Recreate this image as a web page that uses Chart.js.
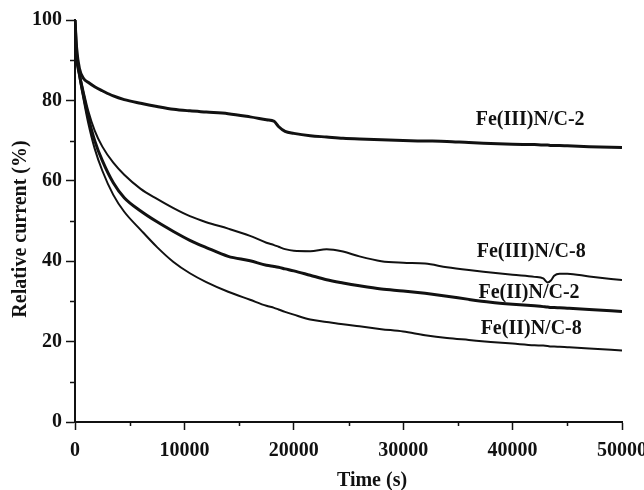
<!DOCTYPE html>
<html>
<head>
<meta charset="utf-8">
<script src="https://cdn.jsdelivr.net/npm/chart.js@4"></script>
<style>
  html, body { margin: 0; padding: 0; background: #fff; }
  #chart { display: block; }
</style>
</head>
<body>
<canvas id="chart" width="644" height="490"></canvas>
<script>
// time points (s), shared by all four curves
const times = [0, 150, 400, 800, 1200, 1800, 2500, 3500, 4500, 6000, 7500, 9000, 10500, 12000, 14000,
  16000, 17500, 18200, 18600, 19200, 20000, 21500, 23000, 24500, 26000, 28000, 30000, 32000, 34000,
  36000, 38000, 40000, 42000, 42800, 43200, 43500, 43800, 44300, 45000, 47000, 50000];

const fe3nc2 = [100, 93, 88, 85.4, 84.5, 83.4, 82.4, 81.1, 80.2, 79.3, 78.5, 77.8, 77.4, 77.1, 76.7,
  75.9, 75.2, 74.8, 73.5, 72.3, 71.8, 71.2, 70.9, 70.6, 70.4, 70.2, 70.0, 69.9, 69.8,
  69.5, 69.3, 69.1, 69.0, 68.9, 68.9, 68.8, 68.8, 68.8, 68.7, 68.5, 68.3];

const fe3nc8 = [100, 91, 87, 82, 77.5, 72.5, 68.5, 64.5, 61.5, 58, 55.5, 53.2, 51.2, 49.7, 48.1,
  46.3, 44.6, 44.0, 43.6, 43.0, 42.6, 42.5, 43.0, 42.4, 41.2, 40.0, 39.6, 39.4, 38.5,
  37.8, 37.2, 36.6, 36.1, 35.7, 34.7, 35.2, 36.4, 36.9, 36.9, 36.2, 35.3];

const fe2nc2 = [100, 91, 86.5, 81, 76, 70, 65, 59.5, 55.8, 52.5, 49.8, 47.4, 45.2, 43.4, 41.2,
  40.1, 39.0, 38.7, 38.5, 38.1, 37.6, 36.5, 35.4, 34.6, 33.9, 33.1, 32.6, 32.0, 31.3,
  30.5, 29.8, 29.3, 28.9, 28.7, 28.6, 28.5, 28.5, 28.4, 28.3, 28.0, 27.5];

const fe2nc8 = [100, 91, 86, 80, 74.5, 68, 62.5, 56.5, 52.3, 47.8, 43.5, 39.8, 37.0, 34.8, 32.4,
  30.4, 28.9, 28.4, 28.0, 27.4, 26.7, 25.5, 24.9, 24.3, 23.8, 23.1, 22.5, 21.6, 20.9,
  20.4, 19.9, 19.5, 19.1, 19.0, 18.9, 18.8, 18.8, 18.7, 18.6, 18.3, 17.8];

const seriesNames = ["Fe(III)N/C-2", "Fe(III)N/C-8", "Fe(II)N/C-2", "Fe(II)N/C-8"];
const xMinorTicks = [5000, 15000, 25000, 35000, 45000];
const yMinorTicks = [10, 30, 50, 70, 90];

const FONT = "'Liberation Serif', 'Times New Roman', serif";

function toPoints(vals) {
  return times.map((t, i) => ({ x: t, y: vals[i] }));
}

function lineSet(label, vals, width) {
  return {
    label: label,
    data: toPoints(vals),
    borderColor: "#111",
    borderWidth: width,
    pointRadius: 0,
    fill: false,
    cubicInterpolationMode: "monotone",
  };
}

// minor ticks, curve labels and axis titles
const extras = {
  id: "extras",
  afterDraw(chart) {
    let ctx = chart.ctx;
    let xs = chart.scales.x;
    let ys = chart.scales.y;
    let area = chart.chartArea;

    ctx.save();
    ctx.strokeStyle = "#111";
    ctx.lineWidth = 1.5;
    ctx.beginPath();
    xMinorTicks.forEach((v) => {
      let px = Math.round(xs.getPixelForValue(v)) + 0.5;
      ctx.moveTo(px, area.bottom);
      ctx.lineTo(px, area.bottom + 4);
    });
    yMinorTicks.forEach((v) => {
      let py = Math.round(ys.getPixelForValue(v)) + 0.5;
      ctx.moveTo(area.left, py);
      ctx.lineTo(area.left - 5, py);
    });
    ctx.stroke();

    ctx.fillStyle = "#111";
    ctx.font = "bold 20px " + FONT;
    ctx.textAlign = "center";
    ctx.textBaseline = "middle";

    // label anchors in data units, next to each curve's tail
    let anchors = [[41600, 75.1], [41700, 42.3], [41500, 32.1], [41700, 23.1]];
    seriesNames.forEach((name, i) => {
      ctx.fillText(name, xs.getPixelForValue(anchors[i][0]), ys.getPixelForValue(anchors[i][1]));
    });

    ctx.fillText("Time (s)", 372, 481);

    ctx.translate(21, 229);
    ctx.rotate(-Math.PI / 2);
    ctx.fillText("Relative current (%)", 0, 0);
    ctx.restore();
  },
};

new Chart(document.getElementById("chart"), {
  type: "line",
  data: {
    datasets: [
      lineSet(seriesNames[0], fe3nc2, 3),
      lineSet(seriesNames[1], fe3nc8, 2),
      lineSet(seriesNames[2], fe2nc2, 3),
      lineSet(seriesNames[3], fe2nc8, 2),
    ],
  },
  options: {
    responsive: false,
    animation: false,
    devicePixelRatio: 1,
    layout: { padding: { top: 20, right: 22, left: 0, bottom: 0 } },
    plugins: {
      legend: { display: false },
      tooltip: { enabled: false },
    },
    scales: {
      x: {
        type: "linear",
        min: 0,
        max: 50000,
        afterFit: (s) => {
          s.height = 68;
          s.paddingLeft = 0;
          s.paddingRight = 0;
        },
        ticks: {
          stepSize: 10000,
          color: "#111",
          padding: 9,
          maxRotation: 0,
          callback: (v) => String(v),
          font: { family: FONT, size: 20, weight: "bold" },
        },
        grid: { drawOnChartArea: false, drawTicks: true, tickLength: 8, tickColor: "#111", tickWidth: 1.5 },
        border: { display: true, color: "#111", width: 2 },
      },
      y: {
        min: 0,
        max: 100,
        afterFit: (s) => {
          s.width = 75;
          s.paddingTop = 0;
          s.paddingBottom = 0;
        },
        ticks: {
          stepSize: 20,
          color: "#111",
          padding: 4,
          callback: (v) => String(v),
          font: { family: FONT, size: 20, weight: "bold" },
        },
        grid: { drawOnChartArea: false, drawTicks: true, tickLength: 9, tickColor: "#111", tickWidth: 1.5 },
        border: { display: true, color: "#111", width: 2 },
      },
    },
  },
  plugins: [extras],
});
</script>
</body>
</html>
